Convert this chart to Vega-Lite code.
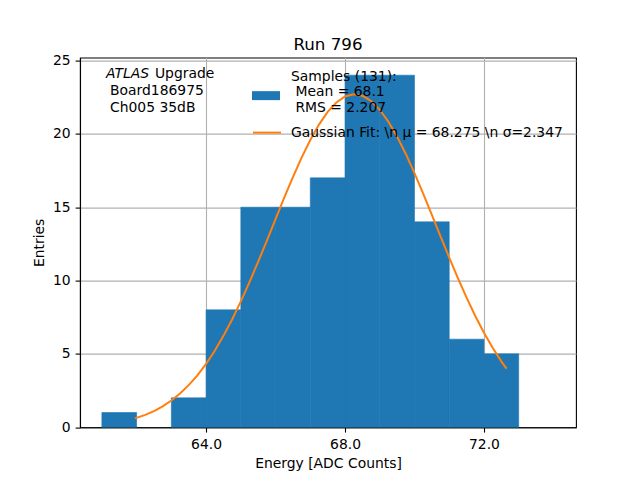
{
  "$schema": "https://vega.github.io/schema/vega-lite/v6.json",
  "width": 496,
  "height": 369.6,
  "autosize": {"type": "none"},
  "padding": {"left": 80, "top": 57.6, "right": 64, "bottom": 52.8},
  "title": {"text": "Run 796", "offset": 0, "frame": "group"},
  "datasets": {
    "hist": [
      {"lo": 61, "hi": 62, "n": 1},
      {"lo": 63, "hi": 64, "n": 2},
      {"lo": 64, "hi": 65, "n": 8},
      {"lo": 65, "hi": 66, "n": 15},
      {"lo": 66, "hi": 67, "n": 15},
      {"lo": 67, "hi": 68, "n": 17},
      {"lo": 68, "hi": 69, "n": 24},
      {"lo": 69, "hi": 70, "n": 24},
      {"lo": 70, "hi": 71, "n": 14},
      {"lo": 71, "hi": 72, "n": 6},
      {"lo": 72, "hi": 73, "n": 5}
    ],
    "fit": [
      {"x": 61.95, "y": 0.601}, {"x": 62.25, "y": 0.841}, {"x": 62.5, "y": 1.1},
      {"x": 62.75, "y": 1.421}, {"x": 63, "y": 1.816}, {"x": 63.25, "y": 2.294},
      {"x": 63.5, "y": 2.865}, {"x": 63.75, "y": 3.538}, {"x": 64, "y": 4.32},
      {"x": 64.25, "y": 5.217}, {"x": 64.5, "y": 6.227}, {"x": 64.75, "y": 7.348},
      {"x": 65, "y": 8.574}, {"x": 65.25, "y": 9.893}, {"x": 65.5, "y": 11.284},
      {"x": 65.75, "y": 12.726}, {"x": 66, "y": 14.19}, {"x": 66.25, "y": 15.645},
      {"x": 66.5, "y": 17.055}, {"x": 66.75, "y": 18.38}, {"x": 67, "y": 19.586},
      {"x": 67.25, "y": 20.634}, {"x": 67.5, "y": 21.495}, {"x": 67.75, "y": 22.139},
      {"x": 68, "y": 22.545}, {"x": 68.25, "y": 22.699}, {"x": 68.5, "y": 22.596},
      {"x": 68.75, "y": 22.24}, {"x": 69, "y": 21.642}, {"x": 69.25, "y": 20.824},
      {"x": 69.5, "y": 19.81}, {"x": 69.75, "y": 18.632}, {"x": 70, "y": 17.327},
      {"x": 70.25, "y": 15.93}, {"x": 70.5, "y": 14.482}, {"x": 70.75, "y": 13.018},
      {"x": 71, "y": 11.568}, {"x": 71.25, "y": 10.165}, {"x": 71.5, "y": 8.83},
      {"x": 71.75, "y": 7.586}, {"x": 72, "y": 6.442}, {"x": 72.25, "y": 5.41},
      {"x": 72.5, "y": 4.49}, {"x": 72.65, "y": 3.995}
    ]
  },
  "layer": [
    {
      "data": {"name": "hist"},
      "mark": {"type": "bar", "orient": "vertical", "binSpacing": 0, "stroke": "#1f77b4", "strokeWidth": 0.6},
      "encoding": {
        "x": {
          "field": "lo", "type": "quantitative", "title": "Energy [ADC Counts]",
          "scale": {"domain": [60.37, 74.65], "nice": false, "zero": false, "padding": 0},
          "axis": {"values": [64, 68, 72], "format": ".1f"}
        },
        "x2": {"field": "hi"},
        "y": {
          "field": "n", "type": "quantitative", "title": "Entries",
          "scale": {"domain": [0, 25.2], "nice": false, "padding": 0},
          "axis": {"values": [0, 5, 10, 15, 20, 25], "format": "d"}
        },
        "y2": {"datum": 0},
        "fill": {
          "datum": "Samples (131):|\u200b\u00a0Mean = 68.1|\u200b\u00a0RMS = 2.207",
          "scale": {"range": ["#1f77b4"]},
          "legend": {
            "orient": "none", "legendX": 172, "legendY": 5, "title": null,
            "symbolType": "M-1,1.04H1V1.68H-1Z", "symbolSize": 784,
            "symbolStrokeWidth": 0, "labelOffset": 11,
            "labelExpr": "split(datum.label, '|')"
          }
        }
      }
    },
    {
      "data": {"name": "fit"},
      "mark": {"type": "line", "strokeWidth": 2},
      "encoding": {
        "x": {"field": "x", "type": "quantitative"},
        "y": {"field": "y", "type": "quantitative"},
        "stroke": {
          "datum": "Gaussian Fit: \\n μ = 68.275 \\n σ=2.347",
          "scale": {"range": ["#ff7f0e"]},
          "legend": {
            "orient": "none", "legendX": 172, "legendY": 60, "title": null,
            "symbolType": "stroke", "symbolSize": 784, "symbolStrokeWidth": 2,
            "labelOffset": 9
          }
        }
      }
    },
    {
      "data": {"values": [{}]},
      "mark": {"type": "text", "align": "left", "baseline": "middle", "fontStyle": "italic"},
      "encoding": {
        "x": {"datum": 61.118, "type": "quantitative"},
        "y": {"datum": 24.08, "type": "quantitative"},
        "text": {"value": "ATLAS"}
      }
    },
    {
      "data": {"values": [{}]},
      "mark": {"type": "text", "align": "left", "baseline": "middle"},
      "encoding": {
        "x": {"datum": 62.528, "type": "quantitative"},
        "y": {"datum": 24.08, "type": "quantitative"},
        "text": {"value": "Upgrade"}
      }
    },
    {
      "data": {"values": [{}]},
      "mark": {"type": "text", "align": "left", "baseline": "middle"},
      "encoding": {
        "x": {"datum": 61.233, "type": "quantitative"},
        "y": {"datum": 22.89, "type": "quantitative"},
        "text": {"value": "Board186975"}
      }
    },
    {
      "data": {"values": [{}]},
      "mark": {"type": "text", "align": "left", "baseline": "middle"},
      "encoding": {
        "x": {"datum": 61.233, "type": "quantitative"},
        "y": {"datum": 21.73, "type": "quantitative"},
        "text": {"value": "Ch005 35dB"}
      }
    }
  ],
  "resolve": {"scale": {"fill": "independent", "stroke": "independent"}},
  "config": {
    "font": "DejaVu Sans",
    "background": "white",
    "view": {"stroke": "black", "strokeWidth": 1.1},
    "title": {"font": "DejaVu Sans", "fontSize": 16.7, "fontWeight": "normal", "color": "black"},
    "text": {"font": "DejaVu Sans", "fontSize": 13.9, "color": "black"},
    "axis": {
      "zindex": 1,
      "domainColor": "black", "domainWidth": 1.1,
      "tickColor": "black", "tickWidth": 1.1, "tickSize": 4.9,
      "labelFont": "DejaVu Sans", "labelFontSize": 13.9, "labelColor": "black", "labelPadding": 4.9,
      "titleFont": "DejaVu Sans", "titleFontSize": 13.9, "titleFontWeight": "normal", "titleColor": "black", "titlePadding": 5.6,
      "grid": true, "gridColor": "#b0b0b0", "gridWidth": 1.1
    },
    "legend": {
      "padding": 0,
      "labelFont": "DejaVu Sans", "labelFontSize": 13.9, "labelColor": "black", "labelLimit": 400
    }
  }
}
